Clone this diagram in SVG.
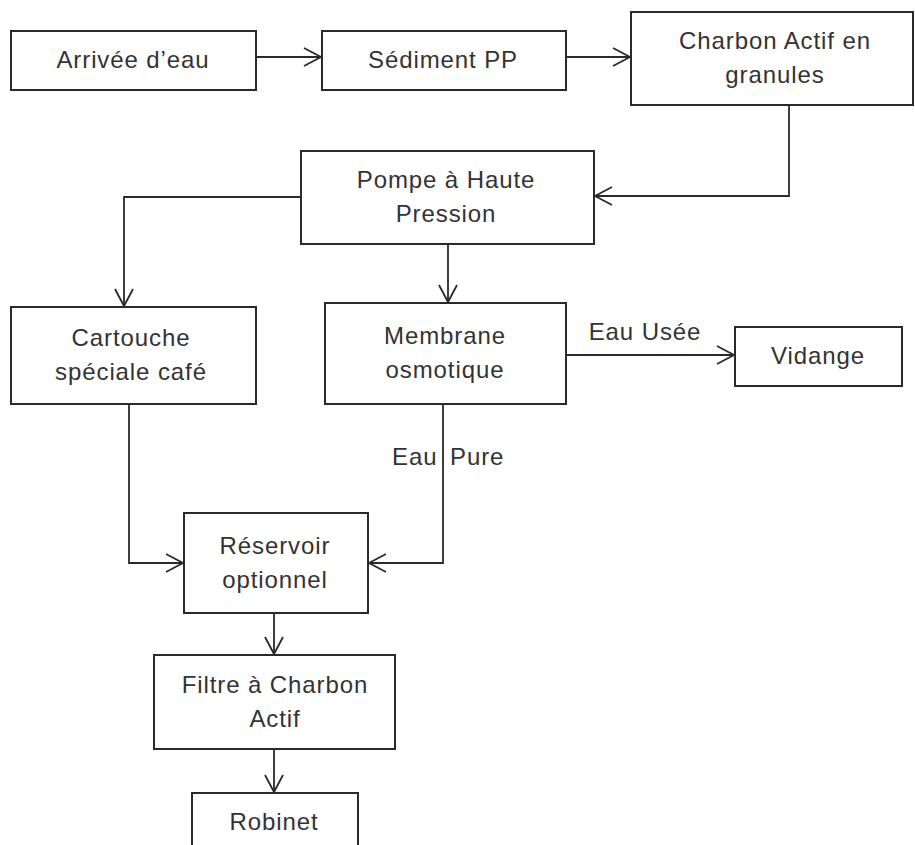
<svg xmlns="http://www.w3.org/2000/svg" width="915" height="845" viewBox="0 0 915 845">
  <style>
    .box { fill: #ffffff; stroke: #2a2a2a; stroke-width: 2; }
    .lbl { font-family: "Liberation Sans", Arial, sans-serif; font-size: 24px; fill: #333333; text-anchor: middle; letter-spacing: 0.9px; }
    .conn { fill: none; stroke: #2a2a2a; stroke-width: 1.8; }
  </style>
  <defs>
    <marker id="ah" viewBox="-20 -12 22 24" markerWidth="22" markerHeight="24" refX="0" refY="0" orient="auto" markerUnits="userSpaceOnUse">
      <path d="M-17,-9 L0,0 L-17,9" fill="none" stroke="#2a2a2a" stroke-width="1.8"/>
    </marker>
  </defs>
  <rect width="915" height="845" fill="#ffffff"/>

  <g id="connectors">
    <path class="conn" d="M256,57 H321" marker-end="url(#ah)"/>
    <path class="conn" d="M566,57 H630" marker-end="url(#ah)"/>
    <path class="conn" d="M789,105 V196 H595" marker-end="url(#ah)"/>
    <path class="conn" d="M301,197 H124 V306" marker-end="url(#ah)"/>
    <path class="conn" d="M448,244 V302" marker-end="url(#ah)"/>
    <path class="conn" d="M566,355 H734" marker-end="url(#ah)"/>
    <path class="conn" d="M129,404 V563 H183" marker-end="url(#ah)"/>
    <path class="conn" d="M443,404 V563 H369" marker-end="url(#ah)"/>
    <path class="conn" d="M274,613 V654" marker-end="url(#ah)"/>
    <path class="conn" d="M274,749 V792" marker-end="url(#ah)"/>
    <text class="lbl" x="645" y="340">Eau Usée</text>
    <text class="lbl" x="392" y="465" style="text-anchor:start; word-spacing:5px">Eau Pure</text>
  </g>

  <g id="arrivee">
    <rect class="box" x="11" y="31" width="245" height="59"/>
    <text class="lbl" x="133" y="68">Arrivée d’eau</text>
  </g>
  <g id="sediment">
    <rect class="box" x="322" y="31" width="244" height="59"/>
    <text class="lbl" x="443" y="68">Sédiment PP</text>
  </g>
  <g id="charbon-granules">
    <rect class="box" x="631" y="12" width="282" height="93"/>
    <text class="lbl" x="775" y="49">Charbon Actif en</text>
    <text class="lbl" x="775" y="83">granules</text>
  </g>
  <g id="pompe">
    <rect class="box" x="301" y="151" width="293" height="93"/>
    <text class="lbl" x="446" y="188">Pompe à Haute</text>
    <text class="lbl" x="446" y="222">Pression</text>
  </g>
  <g id="cartouche">
    <rect class="box" x="11" y="307" width="245" height="97"/>
    <text class="lbl" x="131" y="346">Cartouche</text>
    <text class="lbl" x="131" y="380">spéciale café</text>
  </g>
  <g id="membrane">
    <rect class="box" x="325" y="303" width="241" height="101"/>
    <text class="lbl" x="445" y="344">Membrane</text>
    <text class="lbl" x="445" y="378">osmotique</text>
  </g>
  <g id="vidange">
    <rect class="box" x="735" y="327" width="167" height="59"/>
    <text class="lbl" x="818" y="364">Vidange</text>
  </g>
  <g id="reservoir">
    <rect class="box" x="184" y="513" width="184" height="100"/>
    <text class="lbl" x="275" y="554">Réservoir</text>
    <text class="lbl" x="275" y="588">optionnel</text>
  </g>
  <g id="filtre">
    <rect class="box" x="154" y="655" width="241" height="94"/>
    <text class="lbl" x="275" y="693">Filtre à Charbon</text>
    <text class="lbl" x="275" y="727">Actif</text>
  </g>
  <g id="robinet">
    <rect class="box" x="192" y="793" width="166" height="62"/>
    <text class="lbl" x="274" y="830">Robinet</text>
  </g>
</svg>
